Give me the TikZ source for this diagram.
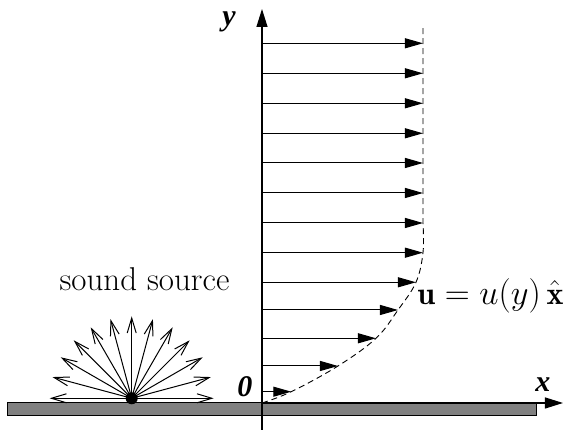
\documentclass[tikz,border=0pt]{standalone}
\usepackage{amsmath,amssymb}
\usepackage{fontspec}
\newfontfamily\axisfont{Liberation Serif}
\usetikzlibrary{arrows.meta, positioning, calc}

\begin{document}
\begin{tikzpicture}[x=0.5pt, y=0.5pt,
    plate/.style={draw=black, fill=gray, line width=0.5pt},
    axis/.style={line width=0.6pt, -{Triangle[length=9pt,width=5.5pt]}},
    velarrow/.style={line width=0.5pt, -{Triangle[length=9pt,width=5pt]}},
    ray/.style={line width=0.5pt, -{Straight Barb[length=7.5pt,width=4.5pt]}},
    profile/.style={dash pattern=on 3pt off 2pt, line width=0.45pt},
    axislabel/.style={font=\axisfont\fontsize{15}{18}\selectfont\bfseries\itshape},
    textlabel/.style={font=\fontsize{16.5}{19}\selectfont}
]
\useasboundingbox (-262,-29) rectangle (302,403);

% Wall and axes
\draw[plate] (-254,-12.5) rectangle (275,0);
\coordinate (origin) at (0,0);
\coordinate (ytop) at (0,394);
\coordinate (ybot) at (0,-27);
\coordinate (xend) at (301,0);
\draw[axis] (ybot) -- (ytop);
\draw[axis] (origin) -- (xend);
\node[axislabel] (ylab) at (-33,381) {y};
\node[axislabel] (xlab) at (281,18) {x};
\node[axislabel] (olab) at (-17,16) {0};

% Velocity profile
\foreach \h/\u in {359.7/161, 329.7/161, 299.7/161, 269.7/161, 240/161, 210/161,
    180/161, 150.3/161, 120.7/154, 93/136, 64.7/114, 37/76, 11.3/29.3}
  \draw[velarrow] (0,\h) -- (\u,\h);
\draw[profile] plot[smooth, tension=0.6] coordinates {(0,0) (29.3,11.3) (76,37)
    (114,64.7) (136,93) (154,120.7) (161,150.3) (161,180)} -- (161,378);
\node[textlabel, font=\fontsize{16}{19}\selectfont, anchor=base west, inner sep=0pt]
    (ulab) at (155,98) {$\mathbf{u}=u(y)\,\hat{\mathbf{x}}$};

% Sound source
\coordinate (src) at (-130.3,4.7);
\foreach \a in {0,15,...,180}
  \draw[ray] (src) -- ++(\a:82);
\fill (src) circle (6);
\node[textlabel, anchor=base] (srclab) at (-117.5,112) {sound source};

\end{tikzpicture}
\end{document}
